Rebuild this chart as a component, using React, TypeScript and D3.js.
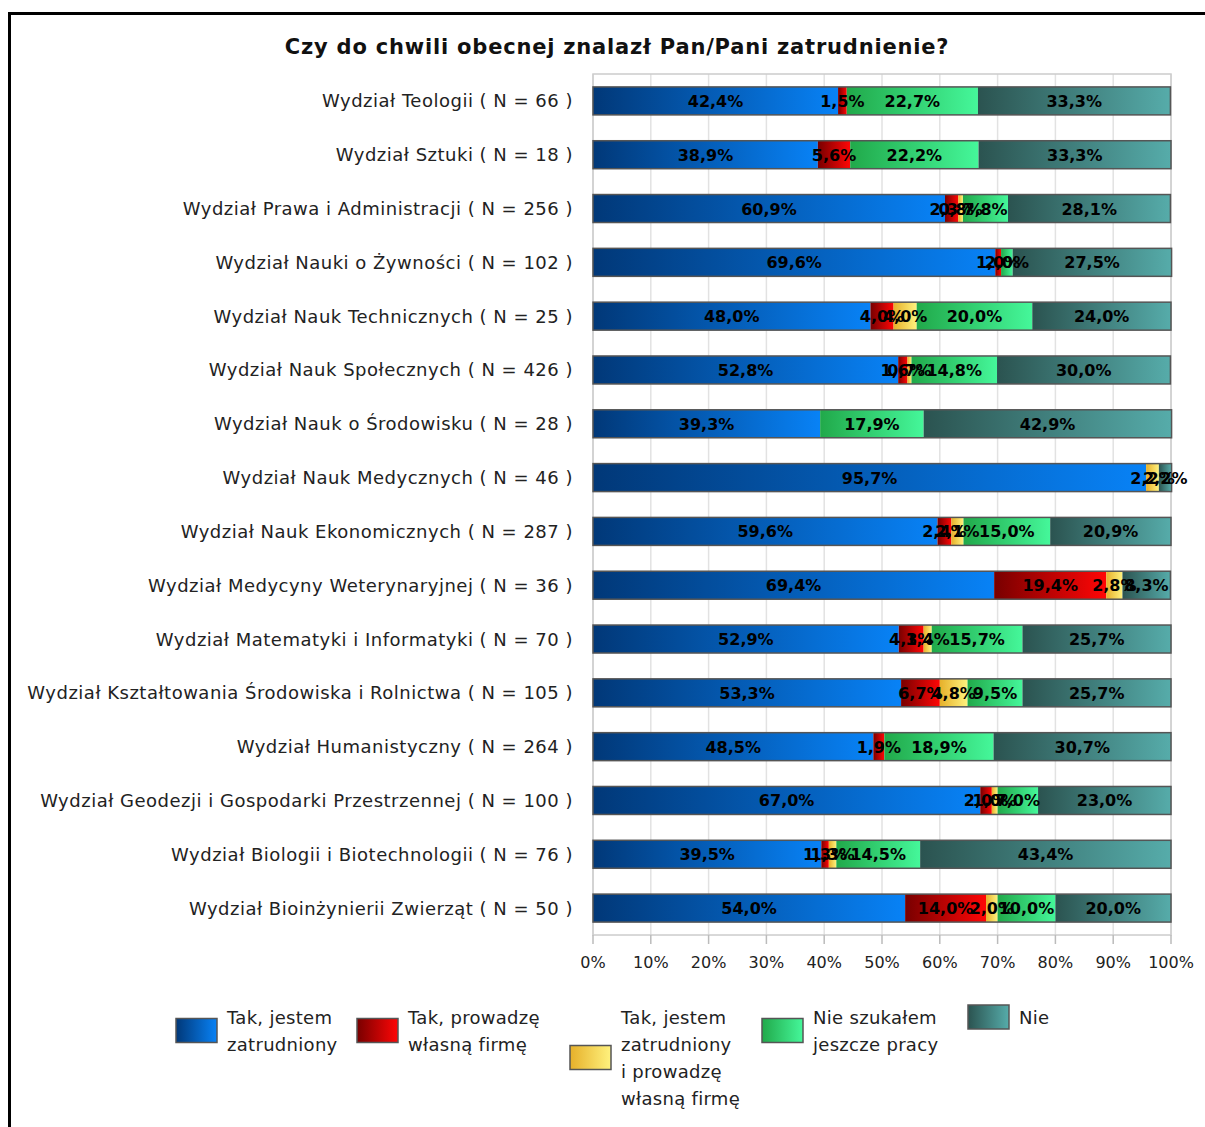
import React from "react";
import * as d3 from "d3";

const title = "Czy do chwili obecnej znalazł Pan/Pani zatrudnienie?";

const categories = [
  "Wydział Teologii ( N = 66 )",
  "Wydział Sztuki ( N = 18 )",
  "Wydział Prawa i Administracji ( N = 256 )",
  "Wydział Nauki o Żywności ( N = 102 )",
  "Wydział Nauk Technicznych ( N = 25 )",
  "Wydział Nauk Społecznych ( N = 426 )",
  "Wydział Nauk o Środowisku ( N = 28 )",
  "Wydział Nauk Medycznych ( N = 46 )",
  "Wydział Nauk Ekonomicznych ( N = 287 )",
  "Wydział Medycyny Weterynaryjnej ( N = 36 )",
  "Wydział Matematyki i Informatyki ( N = 70 )",
  "Wydział Kształtowania Środowiska i Rolnictwa ( N = 105 )",
  "Wydział Humanistyczny ( N = 264 )",
  "Wydział Geodezji i Gospodarki Przestrzennej ( N = 100 )",
  "Wydział Biologii i Biotechnologii ( N = 76 )",
  "Wydział Bioinżynierii Zwierząt ( N = 50 )",
];

const zatrudniony = [42.4, 38.9, 60.9, 69.6, 48.0, 52.8, 39.3, 95.7, 59.6, 69.4, 52.9, 53.3, 48.5, 67.0, 39.5, 54.0];
const wlasnaFirma = [1.5, 5.6, 2.3, 1.0, 4.0, 1.6, 0, 0, 2.4, 19.4, 4.3, 6.7, 1.9, 2.0, 1.3, 14.0];
const obaNaraz = [0, 0, 0.8, 0, 4.0, 0.7, 0, 2.2, 2.1, 2.8, 1.4, 4.8, 0, 1.0, 1.3, 2.0];
const nieSzukalem = [22.7, 22.2, 7.8, 2.0, 20.0, 14.8, 17.9, 0, 15.0, 0, 15.7, 9.5, 18.9, 7.0, 14.5, 10.0];
const nie = [33.3, 33.3, 28.1, 27.5, 24.0, 30.0, 42.9, 2.2, 20.9, 8.3, 25.7, 25.7, 30.7, 23.0, 43.4, 20.0];

const seriesKeys = ["s0", "s1", "s2", "s3", "s4"];
const seriesValues = [zatrudniony, wlasnaFirma, obaNaraz, nieSzukalem, nie];
const legendLabels = [
  ["Tak, jestem", "zatrudniony"],
  ["Tak, prowadzę", "własną firmę"],
  ["Tak, jestem", "zatrudniony", "i prowadzę", "własną firmę"],
  ["Nie szukałem", "jeszcze pracy"],
  ["Nie"],
];
const gradStops = [
  ["#013878", "#0882f6"],
  ["#780000", "#ff0606"],
  ["#e6b02a", "#fff27e"],
  ["#21a94a", "#45f79a"],
  ["#2b5350", "#56acaa"],
];
const legendX = [176, 357, 570, 762, 968];

const xTicks = d3.range(0, 101, 10);

const W = 1205;
const H = 1127;
const plotLeft = 593;
const plotRight = 1171;
const plotTop = 74;
const plotBottom = 935;

const fmt = (v: number) => v.toFixed(1).replace(".", ",") + "%";

export default function App() {
  const x = d3.scaleLinear().domain([0, 100]).range([plotLeft, plotRight]);
  const y = d3
    .scaleBand<string>()
    .domain(categories)
    .range([plotTop, plotBottom])
    .paddingInner(0.48)
    .paddingOuter(0.24);

  const rows = categories.map((c, i) => {
    const o: any = { cat: c };
    seriesKeys.forEach((k, j) => (o[k] = seriesValues[j][i]));
    return o;
  });
  const stack = d3.stack<any>().keys(seriesKeys)(rows);
  const font = "'DejaVu Sans', Verdana, sans-serif";
  const bh = y.bandwidth();

  return (
    <svg
      width={W}
      height={H}
      style={{ position: "absolute", left: 0, top: 0, background: "#fff" }}
      fontFamily={font}
    >
      <defs>
        {gradStops.map((g, i) => (
          <linearGradient key={i} id={`g${i}`} x1="0" y1="0" x2="1" y2="0">
            <stop offset="0" stopColor={g[0]} />
            <stop offset="1" stopColor={g[1]} />
          </linearGradient>
        ))}
      </defs>
      <rect x={9.5} y={13.5} width={W + 10} height={H + 10} fill="#fff" stroke="#000" strokeWidth={3} />
      <text x={617} y={54} textAnchor="middle" fontSize={21} letterSpacing={0.8} fontWeight="bold" fill="#111">
        {title}
      </text>

      {/* grid */}
      {xTicks.map((t) => (
        <line key={t} x1={x(t)} x2={x(t)} y1={plotTop} y2={plotBottom} stroke="#e2e2e2" strokeWidth={1.5} />
      ))}
      <rect
        x={plotLeft}
        y={plotTop}
        width={plotRight - plotLeft}
        height={plotBottom - plotTop}
        fill="none"
        stroke="#cccccc"
        strokeWidth={1.5}
      />
      {/* axis ticks */}
      {xTicks.map((t) => (
        <g key={"t" + t}>
          <line x1={x(t)} x2={x(t)} y1={plotBottom} y2={plotBottom + 9} stroke="#bbbbbb" strokeWidth={1.5} />
          <text x={x(t)} y={968} textAnchor="middle" fontSize={16} fill="#222">
            {t}%
          </text>
        </g>
      ))}

      {/* category labels */}
      {categories.map((c) => (
        <text
          key={c}
          x={573}
          y={(y(c) as number) + bh / 2 + 6.5}
          textAnchor="end"
          fontSize={18}
          letterSpacing={0.5}
          fill="#222"
        >
          {c}
        </text>
      ))}

      {/* bars */}
      {stack.map((s, j) =>
        s.map((d, i) =>
          d[1] - d[0] > 0 ? (
            <rect
              key={`${j}-${i}`}
              x={x(d[0])}
              y={y(categories[i])}
              width={x(d[1]) - x(d[0])}
              height={bh}
              fill={`url(#g${j})`}
            />
          ) : null
        )
      )}
      {categories.map((c, i) => (
        <rect
          key={"o" + c}
          x={x(0)}
          y={y(c)}
          width={x(stack[stack.length - 1][i][1]) - x(0)}
          height={bh}
          fill="none"
          stroke="#555"
          strokeWidth={1.5}
        />
      ))}
      {stack.map((s, j) =>
        s.map((d, i) =>
          d[1] - d[0] > 0 ? (
            <text
              key={`l${j}-${i}`}
              x={(x(d[0]) + x(d[1])) / 2}
              y={(y(categories[i]) as number) + bh / 2 + 6}
              textAnchor="middle"
              fontSize={16}
              fontWeight="bold"
              fill="#000"
            >
              {fmt(d[1] - d[0])}
            </text>
          ) : null
        )
      )}

      {/* legend */}
      {legendLabels.map((lines, i) => {
        const lh = 27;
        const top = 1017;
        const center = top + ((lines.length - 1) * lh) / 2;
        return (
          <g key={"lg" + i}>
            <rect
              x={legendX[i]}
              y={center - 12}
              width={41}
              height={24}
              fill={`url(#g${i})`}
              stroke="#555"
              strokeWidth={1.5}
            />
            {lines.map((ln, k) => (
              <text
                key={k}
                x={legendX[i] + 51}
                y={top + k * lh + 6.5}
                fontSize={18}
                letterSpacing={0.3}
                fill="#222"
              >
                {ln}
              </text>
            ))}
          </g>
        );
      })}
    </svg>
  );
}
